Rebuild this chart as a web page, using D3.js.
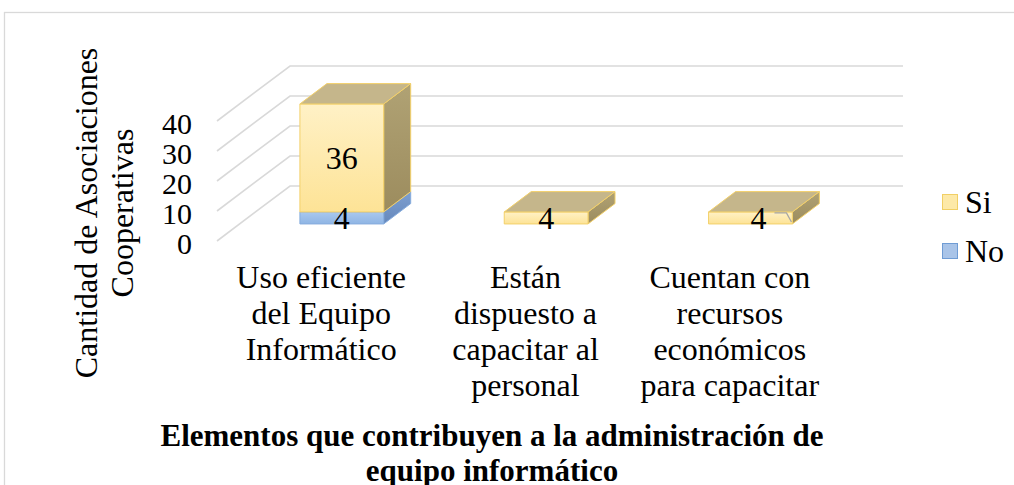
<!DOCTYPE html>
<html>
<head>
<meta charset="utf-8">
<script src="https://cdn.jsdelivr.net/npm/d3@7/dist/d3.min.js"></script>
<style>
  html, body { margin: 0; padding: 0; background: #fff; }
  svg { display: block; font-family: "Liberation Serif", "Times New Roman", serif; }
</style>
</head>
<body>
<script>
// ---------- data ----------
const categories = [
  ["Uso eficiente", "del Equipo", "Informático"],
  ["Están", "dispuesto a", "capacitar al", "personal"],
  ["Cuentan con", "recursos", "económicos", "para capacitar"]
];
const seriesNames = ["No", "Si"];
const noValues = [4, 0, 0];
const siValues = [36, 4, 4];
const yTicks = [0, 10, 20, 30, 40];
const yTitle = ["Cantidad de Asociaciones", "Cooperativas"];
const xTitle = ["Elementos que contribuyen a la administración de", "equipo informático"];

// ---------- layout ----------
const W = 1014, H = 485;
const svg = d3.select("body").append("svg").attr("width", W).attr("height", H);

svg.append("rect").attr("x", 4.5).attr("y", 12.5).attr("width", 1100).attr("height", 600)
  .attr("fill", "#fff").attr("stroke", "#d9d9d9").attr("stroke-width", 1.3);

const keys = categories.map((c, i) => "c" + i);
const x = d3.scaleBand().domain(keys).range([217, 830]);
const y = d3.scaleLinear().domain([0, 40]).range([241, 121]);
const depth = { dx: 73, dy: -55 };
const P = (xf, v, t) => [xf + t * depth.dx, y(v) + t * depth.dy];

const defs = svg.append("defs");
function grad(id, c1, c2) {
  const g = defs.append("linearGradient").attr("id", id).attr("x1", 0).attr("y1", 0).attr("x2", 0).attr("y2", 1);
  g.append("stop").attr("offset", "0%").attr("stop-color", c1);
  g.append("stop").attr("offset", "100%").attr("stop-color", c2);
}
grad("siFront", "#fff1c6", "#fde396");
grad("siSide", "#b0a274", "#9c8c5e");
grad("noFront", "#a9c8ef", "#8fb5e4");
grad("noSide", "#7d9fd0", "#6688bb");

const style = {
  Si: { front: "url(#siFront)", side: "url(#siSide)", top: "#c5b68b", stroke: "#f3d069" },
  No: { front: "url(#noFront)", side: "url(#noSide)", top: "#8aa9d6", stroke: "#86acdd" }
};

// ---------- gridlines (side wall + back wall) ----------
const [xL, xR] = x.range();
const gridG = svg.append("g");
yTicks.forEach(v => {
  const pts = [P(xL, v, 0), P(xL, v, 1), P(xR, v, 1)];
  gridG.append("path").attr("d", d3.line()(pts))
    .attr("fill", "none").attr("stroke", "#d9d9d9").attr("stroke-width", 1.6);
});

// y tick labels
svg.append("g").selectAll("text").data(yTicks).join("text")
  .attr("x", 192).attr("y", d => y(d) + 2)
  .attr("text-anchor", "end").attr("dominant-baseline", "central")
  .attr("font-size", 30).attr("fill", "#000").text(d => d);

// ---------- bars ----------
const table = keys.map((k, i) => ({ key: k, No: noValues[i], Si: siValues[i] }));
const stacked = d3.stack().keys(seriesNames)(table);
const t0 = 0.31, t1 = 0.68;
const half = x.bandwidth() * 0.205;
const poly = pts => "M" + pts.map(p => p.join(",")).join("L") + "Z";
const barG = svg.append("g");
const labelNudge = [0, 0, 8];

keys.forEach((k, i) => {
  const cx = x(k) + x.bandwidth() / 2;
  const xl = cx - half, xr = cx + half;
  const segs = stacked.map(s => ({ name: s.key, v0: s[i][0], v1: s[i][1] })).filter(s => s.v1 - s.v0 > 0);
  segs.forEach((s, j) => {
    const st = style[s.name];
    barG.append("path").attr("d", poly([P(xr, s.v0, t0), P(xr, s.v0, t1), P(xr, s.v1, t1), P(xr, s.v1, t0)]))
      .attr("fill", st.side).attr("stroke", st.stroke).attr("stroke-width", 1).attr("stroke-linejoin", "round");
    barG.append("path").attr("d", poly([P(xl, s.v0, t0), P(xr, s.v0, t0), P(xr, s.v1, t0), P(xl, s.v1, t0)]))
      .attr("fill", st.front).attr("stroke", st.stroke).attr("stroke-width", 1).attr("stroke-linejoin", "round");
    if (j === segs.length - 1) {
      barG.append("path").attr("d", poly([P(xl, s.v1, t0), P(xr, s.v1, t0), P(xr, s.v1, t1), P(xl, s.v1, t1)]))
        .attr("fill", st.top).attr("stroke", st.stroke).attr("stroke-width", 1).attr("stroke-linejoin", "round");
    }
  });
  // labels
  segs.forEach(s => {
    const p = P(cx, (s.v0 + s.v1) / 2, t0);
    barG.append("text").attr("x", p[0] + labelNudge[i]).attr("y", p[1])
      .attr("text-anchor", "middle").attr("dominant-baseline", "central")
      .attr("font-size", 32).attr("fill", "#000").text(s.v1 - s.v0);
    if (labelNudge[i] !== 0) {
      const lx = p[0] + labelNudge[i] + 16;
      barG.append("path")
        .attr("d", d3.line()([[lx, p[1] - 5], [lx + 12, p[1] - 5], [lx + 17, p[1] + 4]]))
        .attr("fill", "none").attr("stroke", "#a6a6a6").attr("stroke-width", 1.3);
    }
  });
});

// ---------- category labels ----------
const catG = svg.append("g");
categories.forEach((lines, i) => {
  const cx = x(keys[i]) + x.bandwidth() / 2 + 2;
  lines.forEach((ln, j) => {
    catG.append("text").attr("x", cx).attr("y", 288 + j * 36)
      .attr("text-anchor", "middle").attr("font-size", 32).attr("fill", "#000").text(ln);
  });
});

// ---------- axis titles ----------
yTitle.forEach((ln, j) => {
  svg.append("text").attr("transform", `translate(${97 + j * 36},213) rotate(-90)`)
    .attr("text-anchor", "middle").attr("font-size", 32).attr("fill", "#000").text(ln);
});
xTitle.forEach((ln, j) => {
  svg.append("text").attr("x", 492).attr("y", 446 + j * 35)
    .attr("text-anchor", "middle").attr("font-size", 31).attr("font-weight", "bold")
    .attr("fill", "#000").text(ln);
});

// ---------- legend ----------
const legendItems = [
  { name: "Si", fill: "#fde9a8", stroke: "#f1cf65" },
  { name: "No", fill: "#a9c4e8", stroke: "#6f9cd4" }
];
const lg = svg.append("g").selectAll("g").data(legendItems).join("g")
  .attr("transform", (d, i) => `translate(942,${194 + i * 49})`);
lg.append("rect").attr("x", 0.5).attr("y", 0.5).attr("width", 15).attr("height", 15)
  .attr("fill", d => d.fill).attr("stroke", d => d.stroke).attr("stroke-width", 1);
lg.append("text").attr("x", 23).attr("y", 19).attr("font-size", 32).attr("fill", "#000").text(d => d.name);
</script>
</body>
</html>
